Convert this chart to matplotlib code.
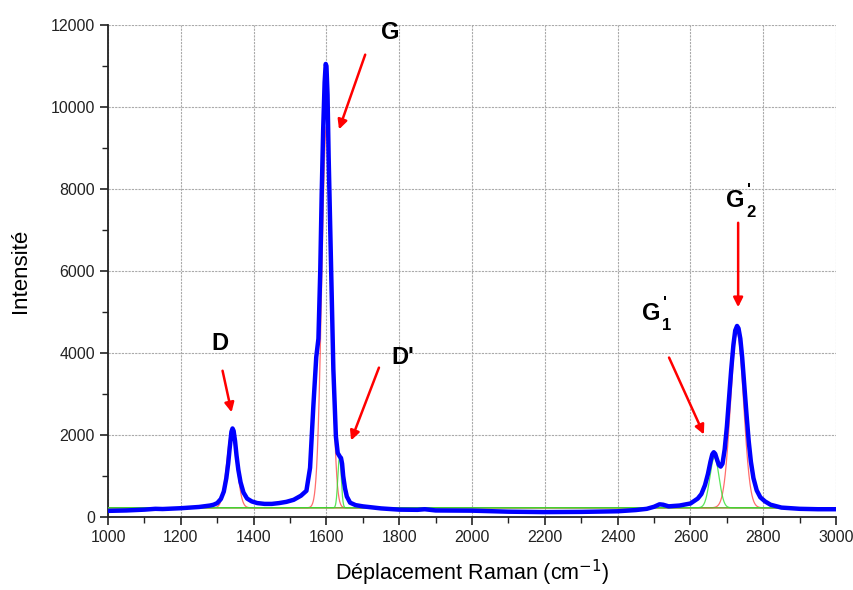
import numpy as np
import matplotlib
matplotlib.use("Agg")
import matplotlib.pyplot as plt
from matplotlib.ticker import MultipleLocator

plt.rcParams['font.family'] = ['Liberation Sans', 'DejaVu Sans']

shift = [1000, 1050, 1100, 1130, 1150, 1200, 1250, 1280, 1290, 1300, 1310, 1318, 1325,
         1330, 1335, 1339, 1342, 1345, 1349, 1353, 1358, 1364, 1372, 1382, 1395, 1410,
         1430, 1450, 1470, 1490, 1510, 1530, 1545, 1555, 1564, 1572, 1578, 1583, 1587,
         1591, 1595, 1598, 1600, 1603, 1606, 1610, 1614, 1619, 1626, 1631, 1637, 1640,
         1643, 1646, 1651, 1656, 1665, 1680, 1700, 1750, 1800, 1850, 1870, 1900, 2000,
         2100, 2200, 2300, 2400, 2450, 2480, 2500, 2515, 2525, 2540, 2570, 2600, 2620,
         2630, 2640, 2648, 2655, 2660, 2664, 2668, 2673, 2678, 2683, 2688, 2694, 2700,
         2706, 2712, 2718, 2723, 2728, 2732, 2737, 2742, 2748, 2754, 2760, 2766, 2773,
         2782, 2792, 2805, 2820, 2850, 2900, 2950, 3000]
intensity = [150, 160, 180, 200, 195, 215, 245, 280, 300, 340, 440, 620, 950,
             1300, 1750, 2080, 2160, 2100, 1850, 1500, 1150, 850, 600, 450, 380, 340,
             320, 320, 340, 370, 420, 520, 640, 1200, 2700, 3900, 4350, 6000, 7900,
             9440, 10600, 11050, 11000, 10300, 8800, 7200, 5600, 3600, 1960, 1560, 1470, 1440,
             1300, 1000, 700, 500, 350, 290, 260, 210, 180, 175, 190, 160, 155,
             130, 120, 125, 140, 170, 200, 250, 310, 300, 260, 280, 330, 450,
             560, 780, 1050, 1350, 1530, 1580, 1540, 1400, 1270, 1230, 1300, 1650, 2200,
             2900, 3600, 4200, 4550, 4660, 4600, 4350, 3900, 3200, 2500, 1850, 1350, 950,
             650, 480, 380, 300, 230, 200, 190, 190]

# Fitted components: centre, peak height above baseline, FWHM
fit_baseline = 225
red_centers = [1340, 1600, 2728]
red_heights = [1875, 9300, 4280]
red_fwhm = [32, 30, 42]
green_centers = [1636, 2666]
green_heights = [1240, 1230]
green_fwhm = [11, 30]

x_ticks = [1000, 1200, 1400, 1600, 1800, 2000, 2200, 2400, 2600, 2800, 3000]
y_ticks = [0, 2000, 4000, 6000, 8000, 10000, 12000]

fig = plt.figure(figsize=(8.54, 5.90), dpi=100)
ax = fig.add_axes([0.1265, 0.1237, 0.8525, 0.8339])

xx = np.linspace(1000, 3000, 4001)
def comp(c, h, w):
    s = w / 2.3548
    return fit_baseline + h * np.exp(-0.5 * ((xx - c) / s) ** 2)

for c, h, w in zip(red_centers, red_heights, red_fwhm):
    ax.plot(xx, comp(c, h, w), color='#ff3030', lw=0.9, alpha=0.7, zorder=3)
for c, h, w in zip(green_centers, green_heights, green_fwhm):
    ax.plot(xx, comp(c, h, w), color='#30e030', lw=0.9, alpha=0.8, zorder=3)

ax.plot(shift, intensity, color='#0000ff', lw=3.2, zorder=4,
        solid_joinstyle='round', solid_capstyle='round')

ax.set_xlim(1000, 3000)
ax.set_ylim(0, 12000)
ax.set_xticks(x_ticks)
ax.set_yticks(y_ticks)
ax.xaxis.set_minor_locator(MultipleLocator(100))
ax.yaxis.set_minor_locator(MultipleLocator(1000))
ax.tick_params(which='major', direction='out', length=6, width=1.2, labelsize=11.5, colors='#222222')
ax.tick_params(which='minor', direction='out', length=4, width=1.0, colors='#222222')
ax.grid(True, which='major', color='#aaaaaa', ls=(0, (2, 1)), lw=0.8, zorder=0)
for s in ['top', 'right']:
    ax.spines[s].set_visible(False)
for s in ['left', 'bottom']:
    ax.spines[s].set_linewidth(1.3)
    ax.spines[s].set_color('#222222')

ax.set_xlabel('Déplacement Raman (cm$^{-1}$)', fontsize=15.5, labelpad=9)
ax.set_ylabel('Intensité', fontsize=16, labelpad=14)

arrow = dict(arrowstyle='-|>', color='red', lw=1.8, mutation_scale=14)
lab = dict(fontsize=17, fontweight='bold', ha='center', va='center')
small = dict(fontsize=12, fontweight='bold', ha='center', va='center', textcoords='offset points')

ax.annotate('', xy=(1341, 2488), xytext=(1313, 3634), arrowprops=arrow, zorder=5)
ax.text(1308, 4244, 'D', **lab)
ax.annotate('', xy=(1632, 9390), xytext=(1709, 11341), arrowprops=arrow, zorder=5)
ax.text(1775, 11829, 'G', **lab)
ax.annotate('', xy=(1665, 1805), xytext=(1747, 3707), arrowprops=arrow, zorder=5)
ax.text(1810, 3902, "D'", **lab)

ax.annotate('', xy=(2640, 1951), xytext=(2538, 3951), arrowprops=arrow, zorder=5)
ax.text(2492, 4976, 'G', **lab)
ax.annotate("'", xy=(2492, 4976), xytext=(10, 7), **small)
ax.annotate('1', xy=(2492, 4976), xytext=(11, -9), **small)

ax.annotate('', xy=(2731, 5049), xytext=(2731, 7244), arrowprops=arrow, zorder=5)
ax.text(2723, 7732, 'G', **lab)
ax.annotate("'", xy=(2723, 7732), xytext=(10, 7), **small)
ax.annotate('2', xy=(2723, 7732), xytext=(11, -9), **small)

fig.savefig('out.png', dpi=100)
